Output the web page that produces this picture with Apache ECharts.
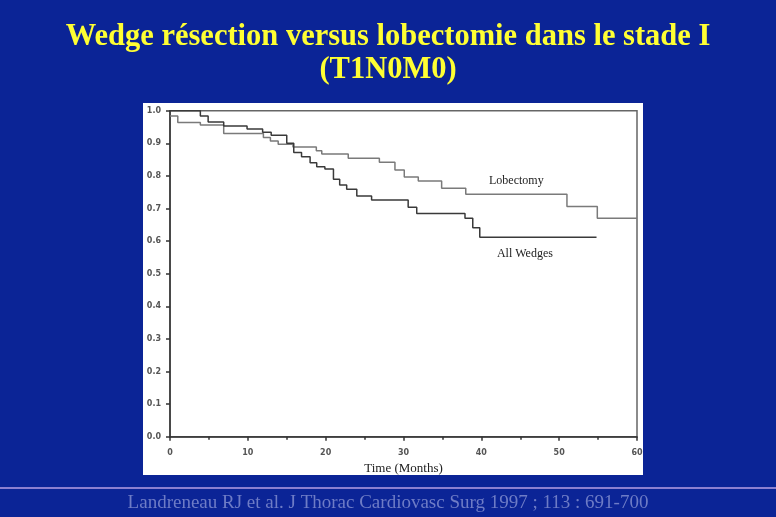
<!DOCTYPE html>
<html>
<head>
<meta charset="utf-8">
<script src="https://cdn.jsdelivr.net/npm/echarts@6/dist/echarts.min.js"></script>
<style>html,body{margin:0;padding:0;background:#0b2496;}#c{width:776px;height:517px;}</style>
</head>
<body>
<div id="c"></div>
<script>
// Kaplan-Meier step data: [month, survival]
const lobectomyTimes = [0, 1.0, 3.9, 6.9, 12.0, 12.9, 13.9, 15.8, 18.8, 19.5, 22.9, 26.9, 28.9, 30.1, 31.9, 34.9, 38.0, 51.0, 54.9, 60];
const lobectomySurv  = [0.984, 0.964, 0.956, 0.930, 0.918, 0.907, 0.897, 0.889, 0.877, 0.867, 0.854, 0.842, 0.818, 0.797, 0.784, 0.762, 0.744, 0.706, 0.670, 0.670];
const wedgeTimes = [0, 3.9, 4.9, 6.9, 9.9, 11.9, 13.0, 15.0, 15.9, 16.9, 18.0, 18.85, 19.9, 21.0, 21.8, 22.7, 24.0, 25.9, 30.6, 31.7, 37.9, 38.9, 39.8, 54.8];
const wedgeSurv  = [1.0, 0.984, 0.965, 0.953, 0.944, 0.934, 0.925, 0.900, 0.872, 0.859, 0.840, 0.828, 0.821, 0.790, 0.772, 0.759, 0.738, 0.726, 0.704, 0.685, 0.670, 0.641, 0.612, 0.612];
const xTicks = [0, 10, 20, 30, 40, 50, 60];
const yTicks = [0.0, 0.1, 0.2, 0.3, 0.4, 0.5, 0.6, 0.7, 0.8, 0.9, 1.0];
const seriesNames = ['Lobectomy', 'All Wedges'];
const labelPos = { 'Lobectomy': [44.5, 0.784], 'All Wedges': [45.6, 0.560] };
const titleLines = ['Wedge résection versus lobectomie dans le stade I', '(T1N0M0)'];
const footnote = 'Landreneau RJ et al. J Thorac Cardiovasc Surg 1997 ; 113 : 691-700';

const chart = echarts.init(document.getElementById('c'));
const zip = (a, b) => a.map((v, i) => [v, b[i]]);
const mkLabel = (name) => ({
  symbol: 'circle', symbolSize: 1, itemStyle: { color: 'rgba(0,0,0,0)' },
  data: [{ coord: labelPos[name] }],
  label: { show: true, formatter: name, position: 'inside', color: '#222',
    fontFamily: 'Liberation Serif', fontSize: 12 }
});

chart.setOption({
  backgroundColor: '#0b2496',
  animation: false,
  graphic: [
    { type: 'rect', z: -10, shape: { x: 143, y: 103, width: 500, height: 372 }, style: { fill: '#ffffff' } },
    { type: 'line', z: -10, shape: { x1: 0, y1: 488, x2: 776, y2: 488 }, style: { stroke: '#8c80d0', lineWidth: 2 } },
    { type: 'text', x: 388, y: 37, style: { text: titleLines[0], fill: '#ffff33', align: 'center', verticalAlign: 'middle',
        font: 'bold 30.5px "Liberation Serif"' } },
    { type: 'text', x: 388, y: 70, style: { text: titleLines[1], fill: '#ffff33', align: 'center', verticalAlign: 'middle',
        font: 'bold 30.5px "Liberation Serif"' } },
    { type: 'text', x: 388, y: 503, style: { text: footnote, fill: '#6e7cc6', align: 'center', verticalAlign: 'middle',
        font: '19px "Liberation Serif"' } }
  ],
  grid: { left: 170, right: 139, top: 110.7, bottom: 80.3, show: true, borderColor: '#666', borderWidth: 1.5, backgroundColor: 'transparent' },
  xAxis: {
    type: 'value', min: 0, max: 60, interval: 10,
    name: 'Time (Months)', nameLocation: 'middle', nameGap: 25,
    nameTextStyle: { color: '#222', fontFamily: 'Liberation Serif', fontSize: 13 },
    axisLine: { show: true, lineStyle: { color: '#333', width: 1.5 } },
    axisTick: { show: true, length: 4, lineStyle: { color: '#333', width: 1.5 } },
    minorTick: { show: true, splitNumber: 2, length: 3, lineStyle: { color: '#333', width: 1.5 } },
    splitLine: { show: false },
    axisLabel: { color: '#555', fontSize: 8, fontWeight: 'bold', fontFamily: 'DejaVu Sans', margin: 12,
      formatter: v => xTicks.includes(v) ? String(v) : '' }
  },
  yAxis: {
    type: 'value', min: 0, max: 1, interval: 0.1,
    axisLine: { show: true, lineStyle: { color: '#333', width: 1.5 } },
    axisTick: { show: true, length: 4, lineStyle: { color: '#333', width: 1.5 } },
    splitLine: { show: false },
    axisLabel: { color: '#555', fontSize: 8, fontWeight: 'bold', fontFamily: 'DejaVu Sans', margin: 9,
      formatter: v => { const t = yTicks.find(k => Math.abs(k - v) < 1e-6); return t === undefined ? '' : t.toFixed(1); } }
  },
  series: [
    { name: seriesNames[0], type: 'line', step: 'end', showSymbol: false, symbol: 'none',
      data: zip(lobectomyTimes, lobectomySurv),
      lineStyle: { color: '#7a7a7a', width: 1.5 }, markPoint: mkLabel(seriesNames[0]) },
    { name: seriesNames[1], type: 'line', step: 'end', showSymbol: false, symbol: 'none',
      data: zip(wedgeTimes, wedgeSurv),
      lineStyle: { color: '#3a3a3a', width: 1.5 }, markPoint: mkLabel(seriesNames[1]) }
  ]
});
</script>
</body>
</html>
